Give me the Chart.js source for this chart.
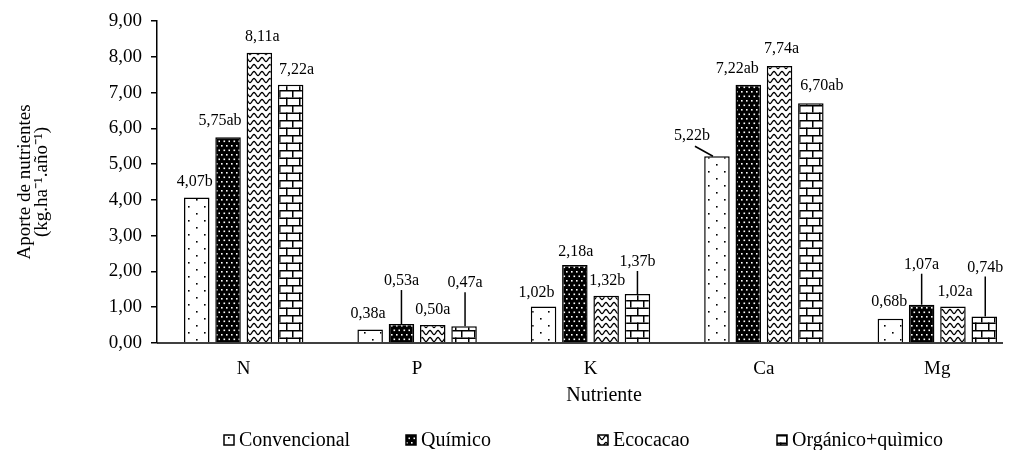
<!DOCTYPE html>
<html>
<head>
<meta charset="utf-8">
<script src="https://cdn.jsdelivr.net/npm/chart.js@4.4.0/dist/chart.umd.min.js"></script>
<style>
  html, body { margin: 0; padding: 0; background: #fff; overflow: hidden; }
  #wrap { width: 1018px; height: 450px; position: relative; overflow: hidden; }
  #c { position: absolute; left: 0; top: 0; }
</style>
</head>
<body>
<div id="wrap"><canvas id="c" width="1030" height="450"></canvas></div>
<script>
// ---- data ----
const categories = ['N', 'P', 'K', 'Ca', 'Mg'];
const seriesNames = ['Convencional', 'Químico', 'Ecocacao', 'Orgánico+quìmico'];
const convencional = [4.07, 0.38, 1.02, 5.22, 0.68];
const quimico      = [5.75, 0.53, 2.18, 7.22, 1.07];
const ecocacao     = [8.11, 0.50, 1.32, 7.74, 1.02];
const organico     = [7.22, 0.47, 1.37, 6.70, 0.74];
const lettersConv  = ['b', 'a', 'b', 'b', 'b'];
const lettersQuim  = ['ab', 'a', 'a', 'ab', 'a'];
const lettersEco   = ['a', 'a', 'b', 'a', 'a'];
const lettersOrg   = ['a', 'a', 'b', 'ab', 'b'];
const yTicks = [0, 1, 2, 3, 4, 5, 6, 7, 8, 9];
const xTitle = 'Nutriente';
const yTitle = ['Aporte de nutrientes', '(kg.ha⁻¹.año⁻¹)'];

// ---- label placement (style, not data) ----
// [dx, dy, leader] ; leader: 0 none, 1 vertical, 2 diagonal
const labelPlace = [
  [[-2,-16,0], [-2,-16,0], [-7,-14,0], [-25,-20,2], [-1,-17,0]],
  [[-8,-16,0], [0,-43,1], [1,-13,0], [-11,-16,0], [0,-40,1]],
  [[3,-16,0], [0,-15,0], [1,-15,0], [2,-17,0], [2,-15,0]],
  [[6,-15,0], [1,-43,1], [0,-32,1], [11,-17,0], [1,-49,1]]
];

const canvas = document.getElementById('c');
const ctx = canvas.getContext('2d');

function makePattern(w, h, draw) {
  const c = document.createElement('canvas');
  c.width = w; c.height = h;
  const g = c.getContext('2d');
  draw(g, w, h);
  return ctx.createPattern(c, 'repeat');
}
const patConv = makePattern(16, 14, (g, w, h) => {
  g.fillStyle = '#fff'; g.fillRect(0, 0, w, h);
  g.fillStyle = '#000';
  g.fillRect(4, 3, 1.6, 1.6);
  g.fillRect(12, 10, 1.6, 1.6);
});
const patQuim = makePattern(10, 9, (g, w, h) => {
  g.fillStyle = '#000'; g.fillRect(0, 0, w, h);
  g.fillStyle = '#fff';
  [[1,1],[6,1],[3.5,5.5],[8.5,5.5]].forEach(p => g.fillRect(p[0], p[1], 1.6, 1.6));
});
const patEco = makePattern(8, 7, (g, w, h) => {
  g.fillStyle = '#fff'; g.fillRect(0, 0, w, h);
  g.strokeStyle = '#000'; g.lineWidth = 1.3;
  g.beginPath();
  for (let x = -1; x <= 9; x += 0.5) {
    const y = 3.5 + 2 * Math.sin(2 * Math.PI * x / 8);
    if (x === -1) g.moveTo(x, y); else g.lineTo(x, y);
  }
  g.stroke();
});
const patOrg = makePattern(13, 15, (g, w, h) => {
  g.fillStyle = '#fff'; g.fillRect(0, 0, w, h);
  g.fillStyle = '#000';
  g.fillRect(0, 0, w, 1.5);
  g.fillRect(0, 7.5, w, 1.5);
  g.fillRect(6, 0, 1.5, 7.5);
  g.fillRect(0, 7.5, 1.5, 7.5);
});
const patterns = [patConv, patQuim, patEco, patOrg];
const seriesValues = [convencional, quimico, ecocacao, organico];
const seriesLetters = [lettersConv, lettersQuim, lettersEco, lettersOrg];

const fmt = v => v.toFixed(2).replace('.', ',');
const SERIF = '"Liberation Serif", "Times New Roman", serif';

const labelPlugin = {
  id: 'barLabels',
  afterDatasetsDraw(chart) {
    const c = chart.ctx;
    c.save();
    c.font = '16px ' + SERIF;
    c.fillStyle = '#000';
    c.strokeStyle = '#000';
    c.lineWidth = 1.5;
    c.textAlign = 'center';
    c.textBaseline = 'middle';
    chart.data.datasets.forEach((ds, i) => {
      const meta = chart.getDatasetMeta(i);
      meta.data.forEach((bar, j) => {
        const [dx, dy, leader] = labelPlace[i][j];
        const lx = bar.x + dx, ly = bar.y + dy;
        c.fillText(fmt(ds.data[j]) + seriesLetters[i][j], lx, ly);
        if (leader === 1) {
          c.beginPath();
          c.moveTo(lx, ly + 9);
          c.lineTo(lx, bar.y);
          c.stroke();
        } else if (leader === 2) {
          c.beginPath();
          c.moveTo(lx + 3, ly + 10);
          c.lineTo(bar.x - 4, bar.y);
          c.stroke();
        }
      });
    });
    c.restore();
  }
};

const framePlugin = {
  id: 'frame',
  afterDraw(chart) {
    const c = chart.ctx;
    const a = chart.chartArea;
    c.save();
    // category axis line (ends short of the plot edge, as in the original)
    c.strokeStyle = '#000';
    c.lineWidth = 1.5;
    c.beginPath();
    c.moveTo(a.left, a.bottom);
    c.lineTo(1003, a.bottom);
    c.stroke();
    // x axis title
    c.fillStyle = '#000';
    c.font = '20px ' + SERIF;
    c.textAlign = 'center';
    c.textBaseline = 'middle';
    c.fillText(xTitle, 604, 396);
    // legend
    const xs = [224, 406, 598, 777];
    const yc = 440;
    c.font = '20px ' + SERIF;
    c.textAlign = 'left';
    seriesNames.forEach((name, i) => {
      const x = xs[i];
      c.fillStyle = patterns[i];
      c.fillRect(x, yc - 5, 10, 10);
      c.strokeStyle = '#000';
      c.lineWidth = 1.5;
      c.strokeRect(x, yc - 5, 10, 10);
      c.fillStyle = '#000';
      c.fillText(name, x + 15, yc + 1);
    });
    c.restore();
  }
};

new Chart(canvas, {
  type: 'bar',
  data: {
    labels: categories,
    datasets: seriesNames.map((n, i) => ({
      label: n,
      data: seriesValues[i],
      backgroundColor: patterns[i],
      borderColor: '#000',
      borderWidth: 1.5,
      categoryPercentage: 0.722,
      barPercentage: 0.815
    }))
  },
  options: {
    responsive: false,
    animation: false,
    devicePixelRatio: 1,
    layout: { padding: { top: 21, right: 6, bottom: 40, left: 0 } },
    plugins: { legend: { display: false }, tooltip: { enabled: false } },
    scales: {
      x: {
        grid: { display: true, drawOnChartArea: false, drawTicks: false },
        border: { display: false },
        ticks: { color: '#000', font: { family: SERIF, size: 19 }, padding: 15 },
        title: { display: false },
        afterFit(s) { s.height = 67; }
      },
      y: {
        min: 0, max: 9,
        afterBuildTicks(s) { s.ticks = yTicks.map(v => ({ value: v })); },
        grid: { display: true, drawOnChartArea: false, drawTicks: true, tickLength: 6, color: '#000', lineWidth: 1.5 },
        border: { display: true, color: '#000', width: 1.5 },
        ticks: { color: '#000', font: { family: SERIF, size: 19 }, padding: 9, callback: v => fmt(v) },
        title: {
          display: true,
          text: yTitle,
          color: '#000',
          font: { family: SERIF, size: 19, lineHeight: '17px' },
          padding: { top: 17, bottom: 0 }
        },
        afterFit(s) { s.width = 157; }
      }
    }
  },
  plugins: [labelPlugin, framePlugin]
});
</script>
</body>
</html>
